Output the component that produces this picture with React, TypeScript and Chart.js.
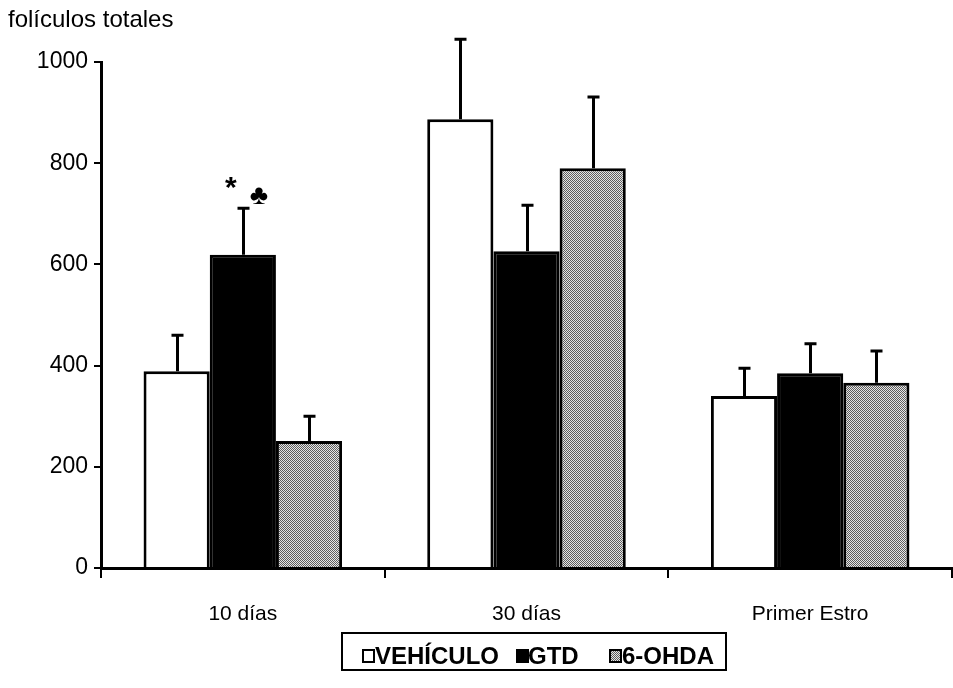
import { useEffect, useRef } from "react";
import { Chart, registerables } from "chart.js";

Chart.register(...registerables);

// Categories and series
const categories = ["10 días", "30 días", "Primer Estro"];
const seriesNames = ["VEHÍCULO", "GTD", "6-OHDA"];

// Mean total follicle counts
const vehiculo = [389, 887, 340];
const gtd = [619, 626, 385];
const ohda = [251, 790, 366];

// Upper error (standard error) for each mean
const vehiculoErr = [71, 158, 55];
const gtdErr = [92, 91, 58];
const ohdaErr = [49, 141, 63];

// Y axis ticks
const yTicks = [0, 200, 400, 600, 800, 1000];

// Significance marks over GTD at 10 días
const significanceMarks = ["*", "♣"];
const significanceIndex = 0;

const yTitle = "folículos totales";
const FONT = "Arial, 'Liberation Sans', sans-serif";

function makeDotPattern(): CanvasPattern | string {
  const c = document.createElement("canvas");
  c.width = 4;
  c.height = 4;
  const g = c.getContext("2d");
  if (!g) return "#a0a0a0";
  for (let y = 0; y < 4; y++) {
    for (let x = 0; x < 4; x++) {
      g.fillStyle = (x + y) % 2 === 0 ? "#5e5e5e" : "#e6e6e6";
      g.fillRect(x, y, 1, 1);
    }
  }
  const p = g.createPattern(c, "repeat");
  return p || "#a0a0a0";
}

export default function App() {
  const canvasRef = useRef<HTMLCanvasElement | null>(null);

  useEffect(() => {
    const canvas = canvasRef.current;
    if (!canvas) return;
    const dots = makeDotPattern();
    const errors = [vehiculoErr, gtdErr, ohdaErr];
    const fills: (string | CanvasPattern)[] = ["#ffffff", "#000000", dots];

    const errorBars = {
      id: "errorBars",
      afterDatasetsDraw(chart: any) {
        const ctx = chart.ctx;
        const yScale = chart.scales.y;
        ctx.save();
        ctx.strokeStyle = "#000";
        ctx.lineWidth = 3;
        chart.data.datasets.forEach((ds: any, i: number) => {
          const meta = chart.getDatasetMeta(i);
          meta.data.forEach((bar: any, j: number) => {
            const top = yScale.getPixelForValue(ds.data[j] + errors[i][j]);
            const x = Math.round(bar.x) + 0.5;
            ctx.beginPath();
            ctx.moveTo(x, bar.y);
            ctx.lineTo(x, top);
            ctx.moveTo(x - 6, top);
            ctx.lineTo(x + 6, top);
            ctx.stroke();
          });
        });
        // significance marks above the GTD error bar
        const gMeta = chart.getDatasetMeta(1);
        const gBar: any = gMeta.data[significanceIndex];
        const gTop = yScale.getPixelForValue(gtd[significanceIndex] + gtdErr[significanceIndex]);
        ctx.fillStyle = "#000";
        ctx.textAlign = "center";
        ctx.textBaseline = "middle";
        ctx.font = `bold 30px ${FONT}`;
        ctx.fillText(significanceMarks[0], gBar.x - 12, gTop - 19);
        ctx.font = `bold 28px ${FONT}`;
        ctx.fillText(significanceMarks[1], gBar.x + 16, gTop - 12);
        ctx.restore();
      },
    };

    const decorations = {
      id: "decorations",
      afterDraw(chart: any) {
        const ctx = chart.ctx;
        ctx.save();
        ctx.fillStyle = "#000";
        ctx.textBaseline = "middle";
        ctx.textAlign = "left";
        ctx.font = `24px ${FONT}`;
        ctx.fillText(yTitle, 8, 20);

        // legend box
        ctx.strokeStyle = "#000";
        ctx.lineWidth = 2;
        ctx.strokeRect(342, 633, 384, 37);
        const items = [
          { box: 363, text: 375 },
          { box: 517, text: 528 },
          { box: 610, text: 622 },
        ];
        ctx.font = `bold 24px ${FONT}`;
        items.forEach((it, i) => {
          ctx.fillStyle = fills[i] as any;
          ctx.fillRect(it.box, 650, 11, 12);
          ctx.lineWidth = 2;
          ctx.strokeStyle = "#000";
          ctx.strokeRect(it.box, 650, 11, 12);
          ctx.fillStyle = "#000";
          ctx.fillText(seriesNames[i], it.text, 657);
        });
        ctx.restore();
      },
    };

    const chart = new Chart(canvas, {
      type: "bar",
      data: {
        labels: categories,
        datasets: [vehiculo, gtd, ohda].map((d, i) => ({
          label: seriesNames[i],
          data: d,
          backgroundColor: fills[i] as any,
          borderColor: "#000",
          borderWidth: 3,
          categoryPercentage: 0.7,
          barPercentage: 1.0,
        })),
      },
      options: {
        responsive: false,
        animation: false,
        layout: { padding: { top: 62, right: 1, left: 0, bottom: 0 } },
        plugins: {
          legend: { display: false },
          tooltip: { enabled: false },
          title: { display: false },
        },
        scales: {
          x: {
            offset: true,
            grid: {
              display: true,
              offset: true,
              drawOnChartArea: false,
              tickLength: 10,
              color: "#000",
              lineWidth: 2,
            },
            border: { color: "#000", width: 3 },
            ticks: {
              color: "#000",
              font: { family: FONT, size: 21 },
              padding: 24,
            },
            afterFit(scale: any) {
              scale.height = 120;
            },
          },
          y: {
            min: 0,
            max: 1000,
            afterBuildTicks(scale: any) {
              scale.ticks = yTicks.map((v) => ({ value: v }));
            },
            grid: {
              display: true,
              drawOnChartArea: false,
              tickLength: 7,
              color: "#000",
              lineWidth: 2,
            },
            border: { color: "#000", width: 3 },
            ticks: {
              color: "#000",
              font: { family: FONT, size: 23 },
              padding: 6,
              callback: (v: any) => String(v),
            },
            afterFit(scale: any) {
              scale.width = 101;
            },
          },
        },
      },
      plugins: [errorBars, decorations],
    });

    return () => chart.destroy();
  }, []);

  return (
    <div style={{ position: "fixed", left: 0, top: 0, width: 953, height: 688, background: "#fff" }}>
      <canvas ref={canvasRef} width={953} height={688} style={{ display: "block" }} />
    </div>
  );
}
